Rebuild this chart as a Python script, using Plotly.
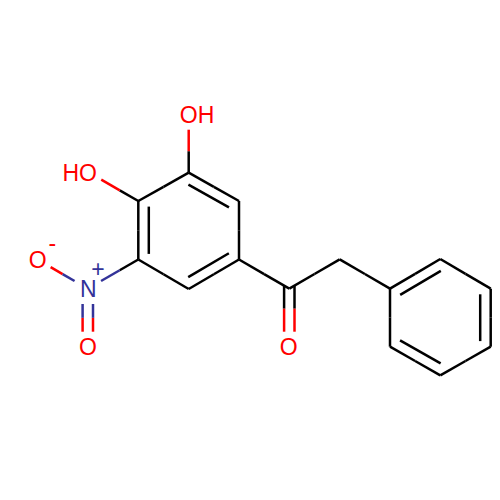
import numpy as np
import plotly.graph_objects as go

# atom positions (pixels, y pointing down)
atom_names = ["C1", "C2", "C3", "C4", "C5", "C6", "O3", "O4", "N5", "Om", "On",
              "CO", "Ok", "CH2", "P1", "P2", "P3", "P4", "P5", "P6"]
atom_x = [188.7, 239.0, 239.0, 188.7, 138.3, 138.3, 188.7, 88.0, 87.8, 37.4, 87.8,
          289.3, 289.3, 339.7, 390.0, 440.3, 490.7, 490.7, 440.3, 390.0]
atom_y = [172.7, 201.0, 259.5, 289.0, 259.5, 201.0, 114.4, 172.0, 288.7, 259.5, 347.0,
          288.7, 347.0, 259.3, 288.7, 259.0, 288.7, 346.7, 375.3, 346.7]
atom_colors = {"O3": "red", "O4": "red", "Om": "red", "On": "red", "Ok": "red", "N5": "blue"}

# plain bonds
single_bonds = [("C1", "C2"), ("C2", "C3"), ("C3", "C4"), ("C4", "C5"), ("C5", "C6"), ("C6", "C1"),
                ("C1", "O3"), ("C6", "O4"), ("C5", "N5"), ("N5", "Om"),
                ("C3", "CO"), ("CO", "CH2"), ("CH2", "P1"),
                ("P1", "P2"), ("P2", "P3"), ("P3", "P4"), ("P4", "P5"), ("P5", "P6"), ("P6", "P1")]
# second line drawn inside the ring, with the ring it belongs to
ring_a = ["C1", "C2", "C3", "C4", "C5", "C6"]
ring_b = ["P1", "P2", "P3", "P4", "P5", "P6"]
inner_bonds = [("C1", "C2", ring_a), ("C3", "C4", ring_a), ("C5", "C6", ring_a),
               ("P1", "P2", ring_b), ("P3", "P4", ring_b), ("P5", "P6", ring_b)]
# two parallel lines off the rings
double_bonds = [("N5", "On"), ("CO", "Ok")]

label_text = ["OH", "HO", "O", "-", "N", "+", "O", "O"]
label_x = [197.0, 79.7, 37.7, 52.3, 88.3, 98.0, 88.0, 288.7]
label_y = [117.5, 174.8, 262.2, 245.5, 291.5, 270.8, 349.2, 349.2]
label_colors = ["red", "red", "red", "red", "blue", "blue", "red", "red"]

palette = {"black": "#000000", "red": "#ff0000", "blue": "#333399"}
pos = {n: np.array([x, y]) for n, x, y in zip(atom_names, atom_x, atom_y)}
LABEL_GAP = 15.3
INNER_OFFSET = 10.5
INNER_TRIM = 5.6
DOUBLE_OFFSET = 5.2

segments = {"black": [], "red": [], "blue": []}


def add_half_colored(a, b, p, q):
    # bond is split halfway between the visible ends, each half in its atom's colour
    mid = (p + q) / 2
    segments[atom_colors.get(a, "black")].append((p, mid))
    segments[atom_colors.get(b, "black")].append((mid, q))


def trimmed(a, b, extend=0.0):
    p, q = pos[a], pos[b]
    u = (q - p) / np.linalg.norm(q - p)
    p = p + u * (LABEL_GAP if a in atom_colors else -extend)
    q = q - u * (LABEL_GAP if b in atom_colors else -extend)
    return p, q


for a, b in single_bonds:
    p, q = trimmed(a, b)
    add_half_colored(a, b, p, q)

for a, b, ring in inner_bonds:
    center = np.mean([pos[n] for n in ring], axis=0)
    p, q = pos[a], pos[b]
    u = (q - p) / np.linalg.norm(q - p)
    n = np.array([-u[1], u[0]])
    if np.dot(center - p, n) < 0:
        n = -n
    segments["black"].append((p + n * INNER_OFFSET + u * INNER_TRIM, q + n * INNER_OFFSET - u * INNER_TRIM))

for a, b in double_bonds:
    p, q = trimmed(a, b, extend=3.0)
    u = (q - p) / np.linalg.norm(q - p)
    n = np.array([-u[1], u[0]])
    for side in (-1, 1):
        add_half_colored(a, b, p + side * n * DOUBLE_OFFSET, q + side * n * DOUBLE_OFFSET)

fig = go.Figure()

for color, segs in segments.items():
    xs, ys = [], []
    for p, q in segs:
        xs += [p[0], q[0], None]
        ys += [p[1], q[1], None]
    fig.add_trace(go.Scatter(x=xs, y=ys, mode="lines",
                             line=dict(color=palette[color], width=2.5), hoverinfo="skip"))

fig.add_trace(go.Scatter(
    x=label_x, y=label_y, mode="text", text=label_text,
    textposition="middle center",
    textfont=dict(family="Liberation Sans", size=23, color=[palette[c] for c in label_colors]),
    hoverinfo="skip", cliponaxis=False,
))

fig.update_layout(
    width=500, height=500,
    margin=dict(l=0, r=0, t=0, b=0),
    paper_bgcolor="white", plot_bgcolor="white",
    showlegend=False,
    xaxis=dict(range=[0, 500], visible=False, fixedrange=True),
    yaxis=dict(range=[500, 0], visible=False, fixedrange=True),
)

fig.write_html("out.html", config={"displayModeBar": False},
               post_script="document.body.style.margin='0';")
